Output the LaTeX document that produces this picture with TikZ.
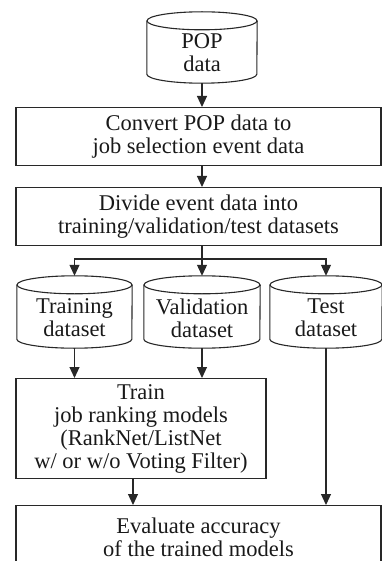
\documentclass[tikz,border=0pt]{standalone}
\usepackage{fontspec}
\setmainfont{Liberation Serif}
\usetikzlibrary{arrows.meta}
\definecolor{ink}{RGB}{40,40,40}
\newcommand\dbshape[3]{% node name, half width, end radius
  \draw[outline] ([yshift=-#3]#1.north west) -- ([yshift=#3]#1.south west)
    arc[start angle=180,end angle=360,x radius=#2,y radius=#3]
    -- ([yshift=-#3]#1.north east);
  \draw[outline] ([yshift=-#3]#1.north) ellipse[x radius=#2,y radius=#3];}
\tikzset{
  txt/.style={font=\fontsize{22.5}{23}\selectfont, align=center, text=black!90},
  outline/.style={draw=ink, line width=1.1pt},
  stepbox/.style={outline, rectangle, txt, inner sep=0pt, anchor=north},
  dbase/.style={rectangle, inner sep=0pt},
  arr/.style={draw=ink, line width=1.1pt, -{Triangle[length=11pt,width=10pt]}},
  conn/.style={draw=ink, line width=1.1pt}
}
\begin{document}
\begin{tikzpicture}[x=1pt,y=1pt]
\useasboundingbox (0,0) rectangle (382,-561);
\clip (0,0) rectangle (382,-561);
% POP data cylinder
\node[dbase, minimum width=110pt, minimum height=71pt,
  label={[txt,yshift=-5.5pt]center:POP\\data}] (pop) at (202,-47.5) {};
\dbshape{pop}{55pt}{9pt}
% Convert box
\node[stepbox, minimum width=365pt, minimum height=58pt] (conv) at (198.5,-107)
  {Convert POP data to\\job selection event data};
% Divide box
\node[stepbox, minimum width=365pt, minimum height=58pt] (div) at (198.5,-187)
  {Divide event data into\\training/validation/test datasets};
% dataset cylinders
\node[dbase, minimum width=115pt, minimum height=72pt,
  label={[txt,yshift=-6pt]center:Training\\dataset}] (trn) at (74.5,-312) {};
\node[dbase, minimum width=116pt, minimum height=72pt,
  label={[txt,yshift=-6pt]center:Validation\\dataset}] (val) at (202,-312) {};
\node[dbase, minimum width=112pt, minimum height=72pt,
  label={[txt,yshift=-6pt]center:Test\\dataset}] (tst) at (326,-312) {};
\dbshape{trn}{57.5pt}{9pt}
\dbshape{val}{58pt}{9pt}
\dbshape{tst}{56pt}{9pt}
% Train box
\node[stepbox, minimum width=250pt, minimum height=100pt] (train) at (141,-378)
  {Train\\job ranking models\\(RankNet/ListNet\\w/ or w/o Voting Filter)};
% Evaluate box
\node[stepbox, minimum width=365pt, inner ysep=12pt] (eval) at (198.5,-505)
  {Evaluate accuracy\\of the trained models};
% connectors
\draw[arr] (pop.south) -- (pop.south |- conv.north);
\draw[arr] (pop.south |- conv.south) -- (pop.south |- div.north);
\coordinate (split) at (202,-259);
\draw[arr] (val.north |- div.south) -- (val.north);
\draw[arr] (split) -| (trn.north);
\draw[arr] (split) -| (tst.north);
\draw[arr] (trn.south) -- (trn.south |- train.north);
\draw[arr] (val.south) -- (val.south |- train.north);
\coordinate (trainout) at ([xshift=-8pt]train.south);
\draw[arr] (trainout) -- (trainout |- eval.north);
\draw[arr] (tst.south) -- (tst.south |- eval.north);
\end{tikzpicture}
\end{document}
